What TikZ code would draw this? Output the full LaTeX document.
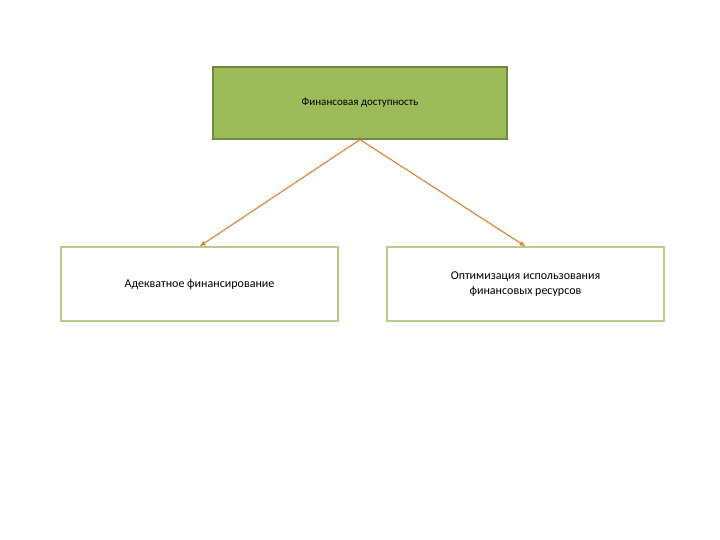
\documentclass[tikz,border=0pt]{standalone}
\usepackage{fontspec}
\setmainfont{Carlito}
\usetikzlibrary{arrows.meta}
\definecolor{topfill}{HTML}{9BBB59}
\definecolor{topdraw}{HTML}{71893F}
\definecolor{boxdraw}{HTML}{B5CC8A}
\definecolor{arr}{HTML}{D9812E}
\begin{document}
\begin{tikzpicture}[x=1pt,y=-1pt,
  topbox/.style={draw=topdraw,line width=1.2pt,fill=topfill,minimum width=294pt,minimum height=72pt,font=\fontsize{11pt}{13pt}\selectfont},
  subbox/.style={draw=boxdraw,line width=1.2pt,fill=white,minimum width=277pt,minimum height=74pt,align=center,font=\fontsize{12pt}{15pt}\selectfont},
  conn/.style={draw=arr,line width=1.1pt,-{Latex[length=6pt,width=5pt]}}]
\useasboundingbox (0,0) rectangle (720,540);
\node[topbox] (top) at (360,103) {Финансовая доступность};
\node[subbox] (l) at (199.5,284) {Адекватное финансирование};
\node[subbox] (r) at (525.5,284) {Оптимизация использования\\финансовых ресурсов};
\draw[conn] (top.south) -- (l.north);
\draw[conn] (top.south) -- (r.north);
\end{tikzpicture}
\end{document}
